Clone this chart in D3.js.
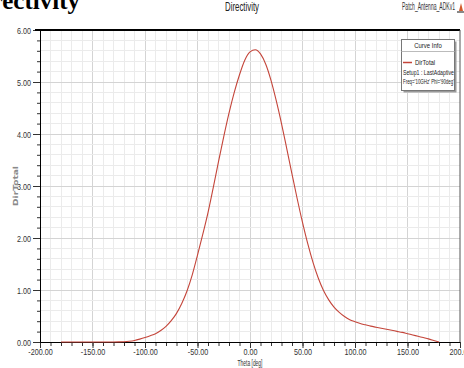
<!DOCTYPE html>
<html>
<head>
<meta charset="utf-8">
<script src="https://cdn.jsdelivr.net/npm/d3@7"></script>
<style>
body { margin: 0; background: #fff; }
svg { display: block; }
</style>
</head>
<body>
<svg id="chart" width="464" height="368"></svg>
<script>
//------------------------------------------------------------------------------
//Data
//------------------------------------------------------------------------------
let theta = [-180, -175, -170, -165, -160, -155, -150, -145, -140, -135, -130, -125,
             -120, -115, -110, -105, -100, -95, -90, -85, -80, -75, -70, -65, -60,
             -55, -50, -45, -40, -35, -30, -25, -20, -15, -10, -5, 0, 5, 10, 15, 20,
             25, 30, 35, 40, 45, 50, 55, 60, 65, 70, 75, 80, 85, 90, 95, 100, 105,
             110, 115, 120, 125, 130, 135, 140, 145, 150, 155, 160, 165, 170, 175, 180]
let dirTotal = [0, 0, 0, 0, 0, 0, 0, 0, 0, 0, 0, 0.002,
                0.006, 0.015, 0.03, 0.055, 0.085, 0.12, 0.16, 0.22, 0.30, 0.41, 0.55, 0.74, 0.98,
                1.29, 1.67, 2.07, 2.49, 2.97, 3.47, 3.95, 4.40, 4.80, 5.14, 5.42, 5.58, 5.62, 5.54, 5.34, 5.03,
                4.64, 4.20, 3.72, 3.23, 2.75, 2.30, 1.89, 1.53, 1.23, 0.99, 0.81, 0.67, 0.57, 0.49, 0.43, 0.39, 0.355,
                0.33, 0.305, 0.285, 0.265, 0.245, 0.225, 0.205, 0.185, 0.16, 0.135, 0.11, 0.085, 0.06, 0.03, 0]

let xTicks = [-200, -150, -100, -50, 0, 50, 100, 150, 200]
let yTicks = [0, 1, 2, 3, 4, 5, 6]

let legendLines = ["Setup1 : LastAdaptive", "Freq='10GHz' Phi='90deg'"]

main()

//------------------------------------------------------------------------------
//Main
//------------------------------------------------------------------------------
function main()
{
    var svg = d3.select("#chart")
    var narrowFont = "'Liberation Sans Narrow', 'Arial Narrow', 'Liberation Sans', sans-serif"

    var left = 40, right = 460, top = 30, bottom = 342

    var x = d3.scaleLinear().domain([-200, 200]).range([left, right])
    var y = d3.scaleLinear().domain([0, 6]).range([bottom, top])

    //clipped heading of the page behind the chart
    svg.append("text")
        .attr("x", 80).attr("y", 9)
        .attr("text-anchor", "end")
        .style("font-family", "'Liberation Serif', 'Times New Roman', serif")
        .style("font-weight", "bold")
        .style("font-size", "25px")
        .text("Directivity")

    //minor grid
    var g = svg.append("g")
    g.selectAll(".vminor")
        .data(d3.range(-190, 200, 10))
        .enter().append("line")
        .attr("x1", d => x(d)).attr("x2", d => x(d))
        .attr("y1", top).attr("y2", bottom)
        .attr("stroke", d => d % 50 == 0 ? "#d4d4d4" : "#ebebeb")
        .attr("stroke-width", 1)
        .attr("shape-rendering", "crispEdges")
    g.selectAll(".hminor")
        .data(d3.range(1, 30))
        .enter().append("line")
        .attr("x1", left).attr("x2", right)
        .attr("y1", d => y(d / 5)).attr("y2", d => y(d / 5))
        .attr("stroke", d => d % 5 == 0 ? "#d4d4d4" : "#ebebeb")
        .attr("stroke-width", 1)
        .attr("shape-rendering", "crispEdges")

    //axes: minor ticks, then major ticks with labels
    var xMinor = d3.axisBottom(x).tickValues(d3.range(-200, 201, 10)).tickSize(4).tickFormat("")
    var yMinor = d3.axisLeft(y).tickValues(d3.range(0, 31).map(d => d / 5)).tickSize(3).tickFormat("")
    svg.append("g").attr("transform", "translate(0," + bottom + ")").call(xMinor)
    svg.append("g").attr("transform", "translate(" + left + ",0)").call(yMinor)

    var xAxis = svg.append("g")
        .attr("transform", "translate(0," + bottom + ")")
        .call(d3.axisBottom(x).tickValues(xTicks).tickSize(6).tickPadding(1).tickFormat(d => d.toFixed(2)))
    var yAxis = svg.append("g")
        .attr("transform", "translate(" + left + ",0)")
        .call(d3.axisLeft(y).tickValues(yTicks).tickSize(7).tickPadding(2).tickFormat(d => d.toFixed(2)))

    svg.selectAll(".domain").attr("stroke", "#000")
    svg.selectAll(".tick line").attr("stroke", "#333")
    svg.selectAll(".tick text")
        .style("font-family", narrowFont)
        .style("font-size", "9px")
        .attr("fill", "#333")
    yAxis.selectAll(".tick text").attr("dy", "0.35em")

    //frame: thick top edge and thin right edge
    svg.append("line")
        .attr("x1", left - 5).attr("x2", right)
        .attr("y1", top).attr("y2", top)
        .attr("stroke", "#000").attr("stroke-width", 2)
    svg.append("line")
        .attr("x1", right).attr("x2", right)
        .attr("y1", top).attr("y2", bottom)
        .attr("stroke", "#555").attr("stroke-width", 1)

    //curve
    var data = theta.map((t, i) => ({t: t, v: dirTotal[i]}))
    var line = d3.line()
        .x(d => x(d.t))
        .y(d => y(d.v))
        .curve(d3.curveMonotoneX)
    svg.append("path")
        .datum(data)
        .attr("fill", "none")
        .attr("stroke", "#c4453a")
        .attr("stroke-width", 1.1)
        .attr("d", line)

    //axis titles
    svg.append("text")
        .attr("x", 250).attr("y", 366)
        .attr("text-anchor", "middle")
        .attr("textLength", 25).attr("lengthAdjust", "spacingAndGlyphs")
        .style("font-family", narrowFont)
        .style("font-size", "9px")
        .attr("fill", "#333")
        .text("Theta [deg]")
    svg.append("text")
        .attr("transform", "translate(18,186) rotate(-90)")
        .attr("text-anchor", "middle")
        .attr("textLength", 40).attr("lengthAdjust", "spacingAndGlyphs")
        .style("font-family", "'DejaVu Sans', sans-serif")
        .style("font-weight", "bold")
        .style("font-size", "7px")
        .attr("fill", "#8a8a8a")
        .text("DirTotal")

    //header texts
    svg.append("text")
        .attr("x", 242).attr("y", 11)
        .attr("text-anchor", "middle")
        .attr("textLength", 34).attr("lengthAdjust", "spacingAndGlyphs")
        .style("font-family", narrowFont)
        .style("font-size", "13px")
        .attr("fill", "#222")
        .text("Directivity")
    svg.append("text")
        .attr("x", 402).attr("y", 10)
        .attr("textLength", 53).attr("lengthAdjust", "spacingAndGlyphs")
        .style("font-family", narrowFont)
        .style("font-size", "10px")
        .attr("fill", "#333")
        .text("Patch_Antenna_ADKv1")
    svg.append("path")
        .attr("d", "M459,11 L461,3 L463,11 Z")
        .attr("fill", "#d35a2a")
    svg.append("rect")
        .attr("x", 457).attr("y", 11).attr("width", 7).attr("height", 2)
        .attr("fill", "#888")

    //legend
    var lg = svg.append("g")
    lg.append("rect")
        .attr("x", 403.5).attr("y", 41.5).attr("width", 53).attr("height", 51)
        .attr("fill", "#9a9a9a")
    lg.append("rect")
        .attr("x", 401.5).attr("y", 39.5).attr("width", 53).attr("height", 51)
        .attr("fill", "#fff").attr("stroke", "#777")
    lg.append("line")
        .attr("x1", 401.5).attr("x2", 454.5).attr("y1", 51.5).attr("y2", 51.5)
        .attr("stroke", "#bbb")
    lg.append("text")
        .attr("x", 428).attr("y", 48)
        .attr("text-anchor", "middle")
        .style("font-family", narrowFont)
        .style("font-size", "7px")
        .attr("fill", "#222")
        .text("Curve Info")
    lg.append("line")
        .attr("x1", 403).attr("x2", 412).attr("y1", 62.5).attr("y2", 62.5)
        .attr("stroke", "#c4453a").attr("stroke-width", 1.5)
    lg.append("text")
        .attr("x", 415).attr("y", 65)
        .style("font-family", narrowFont)
        .style("font-size", "7px")
        .attr("fill", "#222")
        .text("DirTotal")
    lg.selectAll(".info")
        .data(legendLines)
        .enter().append("text")
        .attr("class", "info")
        .attr("x", 403).attr("y", (d, i) => 74.5 + i * 9)
        .style("font-family", narrowFont)
        .style("font-size", "7px")
        .attr("fill", "#222")
        .text(d => d)

    //condensed look of the labels
    svg.selectAll(".tick text").each(function() {
        var w = this.getComputedTextLength()
        if (w > 0) d3.select(this).attr("textLength", w * 0.8).attr("lengthAdjust", "spacingAndGlyphs")
    })
    lg.selectAll("text").each(function() {
        var w = this.getComputedTextLength()
        var target = Math.min(w * 0.85, 51)
        d3.select(this).attr("textLength", target).attr("lengthAdjust", "spacingAndGlyphs")
    })
}
</script>
</body>
</html>
